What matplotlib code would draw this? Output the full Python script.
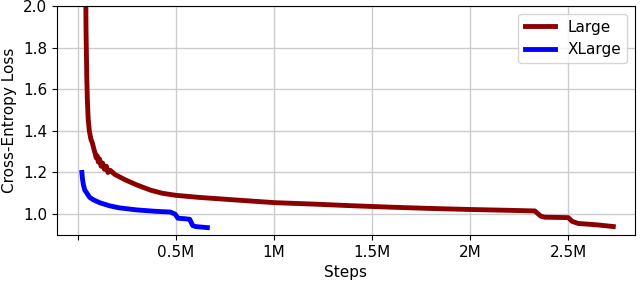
import matplotlib.pyplot as plt

# steps in millions
large_steps = [0.040, 0.041, 0.043, 0.045, 0.048, 0.052, 0.058, 0.066, 0.074, 0.082, 0.088,
               0.093, 0.098, 0.104, 0.110, 0.118, 0.126, 0.135, 0.145, 0.153, 0.165, 0.189,
               0.24, 0.30, 0.37, 0.43, 0.50, 0.62, 0.80, 1.00, 1.20, 1.40, 1.60, 1.80, 2.00, 2.20,
               2.33, 2.36, 2.38, 2.50, 2.52, 2.55, 2.65, 2.73]
large_loss = [2.05, 1.90, 1.78, 1.66, 1.55, 1.46, 1.40, 1.36, 1.34, 1.31, 1.29,
              1.27, 1.28, 1.25, 1.265, 1.23, 1.245, 1.215, 1.23, 1.20, 1.21, 1.19,
              1.165, 1.14, 1.115, 1.10, 1.09, 1.08, 1.068, 1.055, 1.048, 1.04, 1.033, 1.027, 1.022, 1.018,
              1.015, 0.99, 0.985, 0.983, 0.965, 0.955, 0.948, 0.94]

xlarge_steps = [0.020, 0.023, 0.028, 0.035, 0.046, 0.060, 0.080, 0.110, 0.160, 0.210, 0.300,
                0.400, 0.470, 0.495, 0.510, 0.540, 0.570, 0.585, 0.600, 0.660]
xlarge_loss = [1.20, 1.17, 1.14, 1.115, 1.10, 1.08, 1.068, 1.055, 1.04, 1.03, 1.02,
               1.013, 1.01, 1.00, 0.98, 0.978, 0.975, 0.945, 0.94, 0.935]

tick_pos = [0, 0.5, 1.0, 1.5, 2.0, 2.5]
tick_labels = ['', '0.5M', '1M', '1.5M', '2M', '2.5M']

plt.rcParams['font.size'] = 11

fig, ax = plt.subplots(figsize=(6.4, 2.83), dpi=100)
ax.plot(large_steps, large_loss, color='#8b0000', lw=3.5, label='Large')
ax.plot(xlarge_steps, xlarge_loss, color='#0000ff', lw=3.5, label='XLarge')

ax.set_xticks(tick_pos)
ax.set_xticklabels(tick_labels)
ax.set_xlim(-0.107, 2.84)
ax.set_ylim(0.9, 2.0)
ax.grid(True, color='#cccccc', lw=1)
ax.set_axisbelow(True)
ax.set_xlabel('Steps')
ax.set_ylabel('Cross-Entropy Loss')
ax.legend(loc='upper right', fontsize=11)

plt.subplots_adjust(left=0.089, right=0.992, top=0.979, bottom=0.17)
plt.savefig('out.png')
